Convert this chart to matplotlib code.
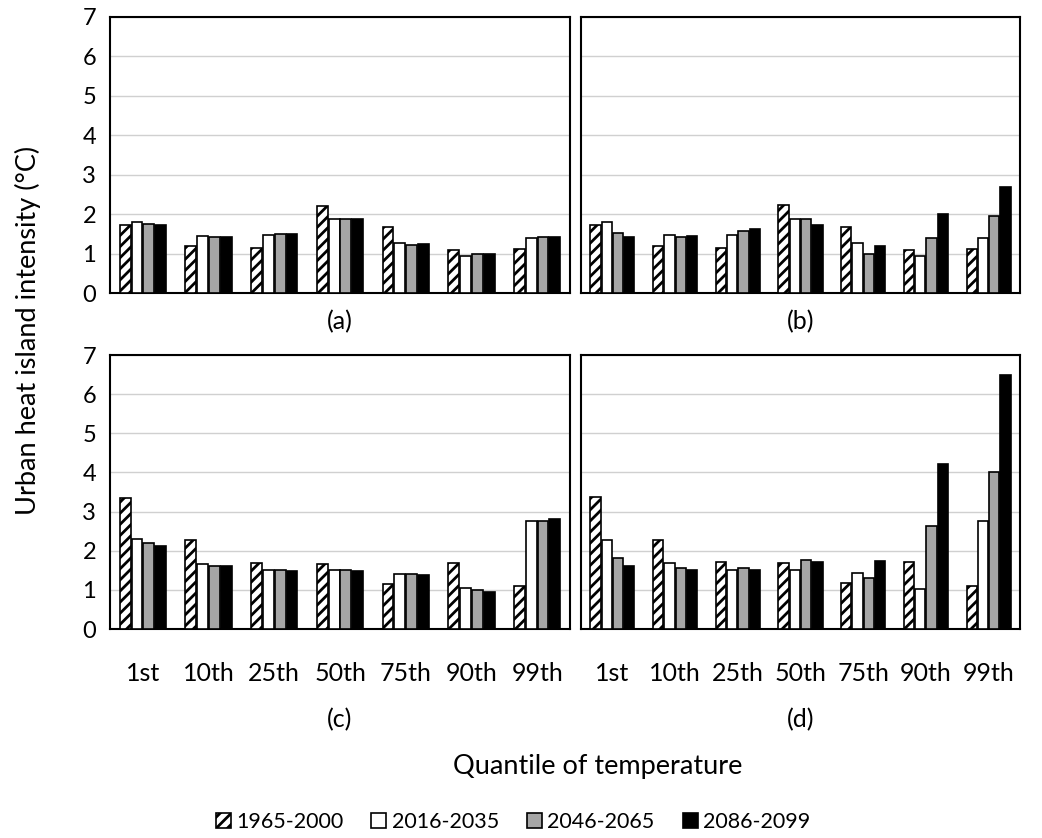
import matplotlib.pyplot as plt
import numpy as np

plt.rcParams['font.family'] = ['Lato', 'DejaVu Sans']
plt.rcParams['hatch.linewidth'] = 2.0

quantiles = ['1st', '10th', '25th', '50th', '75th', '90th', '99th']
periods = ['1965-2000', '2016-2035', '2046-2065', '2086-2099']

# (a)
a_1965 = [1.72, 1.20, 1.15, 2.20, 1.68, 1.08, 1.12]
a_2016 = [1.80, 1.45, 1.47, 1.87, 1.28, 0.95, 1.40]
a_2046 = [1.75, 1.43, 1.50, 1.87, 1.22, 0.98, 1.43]
a_2086 = [1.72, 1.43, 1.50, 1.87, 1.25, 0.98, 1.43]
# (b)
b_1965 = [1.72, 1.20, 1.15, 2.22, 1.68, 1.08, 1.12]
b_2016 = [1.80, 1.47, 1.47, 1.87, 1.28, 0.95, 1.40]
b_2046 = [1.53, 1.42, 1.57, 1.87, 0.98, 1.40, 1.95]
b_2086 = [1.42, 1.45, 1.63, 1.72, 1.20, 2.00, 2.68]
# (c)
c_1965 = [3.35, 2.27, 1.68, 1.65, 1.15, 1.68, 1.10]
c_2016 = [2.30, 1.65, 1.50, 1.50, 1.40, 1.05, 2.77]
c_2046 = [2.20, 1.62, 1.50, 1.50, 1.40, 1.00, 2.77]
c_2086 = [2.12, 1.60, 1.48, 1.48, 1.38, 0.95, 2.80]
# (d)
d_1965 = [3.38, 2.28, 1.70, 1.68, 1.17, 1.70, 1.10]
d_2016 = [2.28, 1.68, 1.50, 1.52, 1.42, 1.02, 2.75]
d_2046 = [1.82, 1.55, 1.55, 1.77, 1.30, 2.62, 4.02]
d_2086 = [1.62, 1.50, 1.52, 1.72, 1.75, 4.22, 6.50]

panels = [('(a)', [a_1965, a_2016, a_2046, a_2086]),
          ('(b)', [b_1965, b_2016, b_2046, b_2086]),
          ('(c)', [c_1965, c_2016, c_2046, c_2086]),
          ('(d)', [d_1965, d_2016, d_2046, d_2086])]

faces = ['white', 'white', '#a6a6a6', 'black']
hatches = ['///', None, None, None]

fig = plt.figure(figsize=(10.42, 8.38), dpi=100)
W, H = 1042, 838
boxes = [(110, 17, 570, 293), (581, 17, 1020, 293),
         (110, 355, 570, 629), (581, 355, 1020, 629)]

x = np.arange(len(quantiles))
bw = 0.18
handles = []
for i, ((label, series), (x0, y0, x1, y1)) in enumerate(zip(panels, boxes)):
    ax = fig.add_axes([x0 / W, 1 - y1 / H, (x1 - x0) / W, (y1 - y0) / H])
    for j, vals in enumerate(series):
        b = ax.bar(x + (j - 1.5) * bw, vals, bw * 0.92, color=faces[j],
                   edgecolor='black', linewidth=1.2, hatch=hatches[j],
                   zorder=3, label=periods[j])
        if i == 0:
            handles.append(b)
    ax.set_ylim(0, 7)
    ax.set_xlim(-0.5, 6.5)
    ax.set_yticks(range(8))
    ax.yaxis.grid(True, color='#d0d0d0', linewidth=1)
    ax.set_axisbelow(True)
    for s in ax.spines.values():
        s.set_linewidth(1.5)
    ax.tick_params(length=0, labelsize=17, pad=10)
    if i % 2 == 1:
        ax.set_yticklabels([])
    if i < 2:
        ax.set_xticks([])
        ax.set_xlabel(label, fontsize=18, labelpad=12)
    else:
        ax.set_xticks(x)
        ax.set_xticklabels(quantiles, fontsize=18)
        ax.tick_params(axis='x', pad=24)
        ax.set_xlabel(label, fontsize=18, labelpad=16)

fig.text(28 / W, 1 - 330 / H, 'Urban heat island intensity (°C)', rotation=90,
         ha='center', va='center', fontsize=19.5)
fig.text(598 / W, 1 - 766 / H, 'Quantile of temperature', ha='center',
         va='center', fontsize=19.5)
fig.legend(handles=handles, labels=periods, loc='center',
           bbox_to_anchor=(513 / W, 1 - 822 / H), ncol=4, frameon=False,
           fontsize=15.5, handlelength=0.7, handleheight=0.7,
           handletextpad=0.25, columnspacing=1.3)

fig.savefig('out.png', dpi=100)
